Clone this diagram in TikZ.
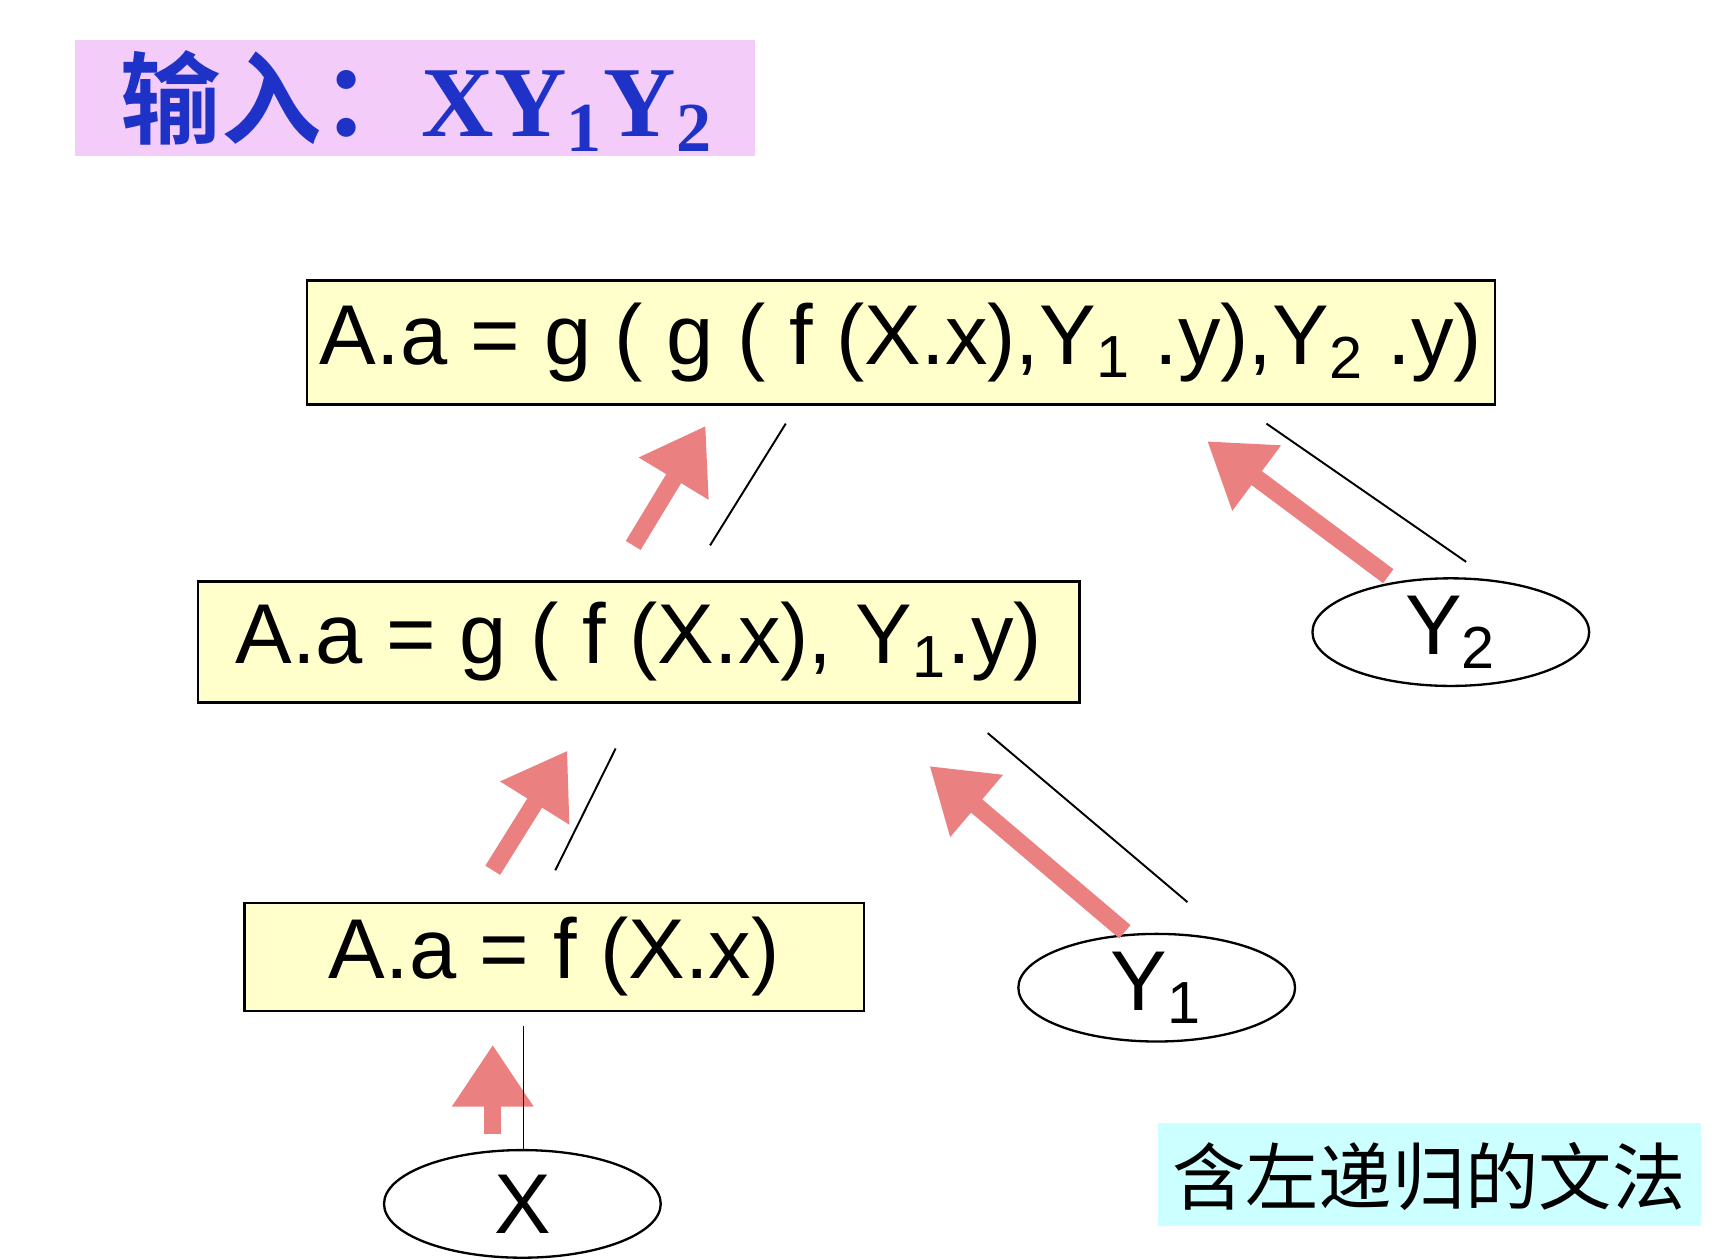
\documentclass[tikz,border=0pt]{standalone}
\usepackage{fontspec}
\setmainfont{Liberation Sans}
\newfontfamily\serifb{Liberation Serif}
\newfontfamily\cjk{Noto Sans CJK SC}
\newfontfamily\cjkb{Noto Sans CJK SC Bold}
\usetikzlibrary{shapes.geometric,arrows.meta}
\definecolor{boxy}{RGB}{255,255,204}
\definecolor{pinkbg}{RGB}{244,204,250}
\definecolor{cyanbg}{RGB}{204,255,255}
\definecolor{arr}{RGB}{235,128,128}
\definecolor{titleb}{RGB}{30,50,200}
\newcommand{\sbs}[1]{\textsubscript{#1}}
\begin{document}
\begin{tikzpicture}[x=0.01cm,y=-0.01cm,
  rbox/.style={draw,fill=boxy,line width=0.6pt,font=\fontsize{22}{26}\selectfont},
  ell/.style={draw,ellipse,line width=0.6pt,minimum width=2.52cm,minimum height=0.98cm,inner sep=0pt,font=\fontsize{22}{26}\selectfont},
  parr/.style={draw=arr,line width=4.5pt,-{Triangle[length=16pt,width=20pt]}},
  thin/.style={draw,line width=0.5pt}]
\useasboundingbox (0,0) rectangle (1560,1148);
\fill[pinkbg] (68,36) rectangle (688,142);
\node[text=titleb,anchor=center] (title) at (380,92) {\cjkb\fontsize{26}{30}\selectfont 输入：\serifb\bfseries XY\sbs{1}Y\sbs{2}};
\fill[cyanbg] (1055,1023) rectangle (1550,1117);
\node (cyan) at (1302,1072) {\cjk\fontsize{19}{22}\selectfont 含左递归的文法};
\node[rbox,minimum width=10.24cm,minimum height=1.13cm] (b1) at (821,312) {A.a = g ( g ( f (X.x),Y\sbs{1} .y),Y\sbs{2} .y)};
\node[rbox,minimum width=8.03cm,minimum height=1.10cm] (b2) at (582,585) {A.a = g ( f (X.x), Y\sbs{1}.y)};
\node[rbox,minimum width=5.64cm,minimum height=0.98cm] (b3) at (505,872) {A.a = f (X.x)};
\node[ell] (y2) at (1322,576) {Y\sbs{2}};
\node[ell] (y1) at (1054,900) {Y\sbs{1}};
\node[ell] (x) at (476,1097) {X};
\coordinate (a1s) at (577,497); \coordinate (a1e) at (643,388);
\coordinate (a2s) at (449,793); \coordinate (a2e) at (517,684);
\coordinate (a3s) at (1265,525); \coordinate (a3e) at (1100,402);
\coordinate (a4s) at (1025,849); \coordinate (a4e) at (847,698);
\coordinate (a5s) at (449,1033); \coordinate (a5e) at (449,952);
\draw[parr] (a1s) -- (a1e);
\draw[parr] (a2s) -- (a2e);
\draw[parr] (a3s) -- (a3e);
\draw[parr] (a4s) -- (a4e);
\draw[parr] (a5s) -- (a5e);
\coordinate (l1s) at (647,497); \coordinate (l1e) at (716,386);
\coordinate (l2s) at (506,793); \coordinate (l2e) at (561,682);
\coordinate (l3s) at (1336,512); \coordinate (l3e) at (1154,386);
\coordinate (l4s) at (1082,822); \coordinate (l4e) at (900,668);
\coordinate (l5e) at (477,935);
\draw[thin] (l1s) -- (l1e);
\draw[thin] (l2s) -- (l2e);
\draw[thin] (l3s) -- (l3e);
\draw[thin] (l4s) -- (l4e);
\draw[thin] (x.north -| l5e) -- (l5e);
\end{tikzpicture}
\end{document}
